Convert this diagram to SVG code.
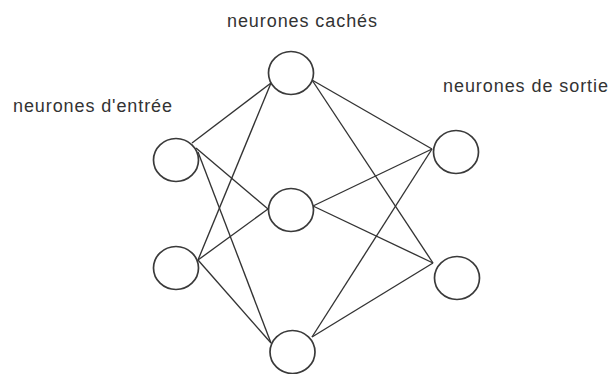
<svg xmlns="http://www.w3.org/2000/svg" width="609" height="374" viewBox="0 0 609 374">
  <style>
    .bg { fill: #ffffff; }
    .neuron { fill: #ffffff; stroke: #3a3a3a; stroke-width: 1.7; }
    .link { stroke: #333333; stroke-width: 1.35; fill: none; }
    .label { font-family: "Liberation Sans", Arial, sans-serif; font-size: 18px; fill: #333333; }
  </style>
  <rect class="bg" x="0" y="0" width="609" height="374"/>

  <!-- layer labels -->
  <g id="labels">
    <text class="label" x="13" y="112" textLength="159" lengthAdjust="spacing">neurones d'entrée</text>
    <text class="label" x="227" y="27" textLength="150" lengthAdjust="spacing">neurones cachés</text>
    <text class="label" x="443" y="92" textLength="165" lengthAdjust="spacing">neurones de sortie</text>
  </g>

  <!-- weighted connections between layers -->
  <g id="connectors">
    <!-- input 1 -> hidden -->
    <line class="link" x1="192" y1="143" x2="271" y2="83"/>
    <line class="link" x1="196" y1="148" x2="268" y2="209"/>
    <line class="link" x1="198" y1="152" x2="271" y2="343"/>
    <!-- input 2 -> hidden -->
    <line class="link" x1="198" y1="260" x2="271" y2="83"/>
    <line class="link" x1="198" y1="260" x2="268" y2="209"/>
    <line class="link" x1="198" y1="260" x2="271" y2="343"/>
    <!-- hidden -> output -->
    <line class="link" x1="312" y1="80" x2="432" y2="149"/>
    <line class="link" x1="312" y1="80" x2="433" y2="263"/>
    <line class="link" x1="313" y1="206" x2="432" y2="149"/>
    <line class="link" x1="313" y1="206" x2="433" y2="263"/>
    <line class="link" x1="312" y1="337" x2="432" y2="149"/>
    <line class="link" x1="312" y1="337" x2="433" y2="263"/>
  </g>

  <!-- input layer -->
  <g id="input-1"><ellipse class="neuron" cx="176" cy="160" rx="22.5" ry="21.5"/></g>
  <g id="input-2"><ellipse class="neuron" cx="176" cy="268" rx="22.5" ry="21.5"/></g>

  <!-- hidden layer -->
  <g id="hidden-1"><ellipse class="neuron" cx="291" cy="73" rx="22.5" ry="21.5"/></g>
  <g id="hidden-2"><ellipse class="neuron" cx="291" cy="210" rx="22.5" ry="21.5"/></g>
  <g id="hidden-3"><ellipse class="neuron" cx="292.5" cy="352" rx="22.5" ry="21.5"/></g>

  <!-- output layer -->
  <g id="output-1"><ellipse class="neuron" cx="456" cy="152" rx="22.5" ry="21.5"/></g>
  <g id="output-2"><ellipse class="neuron" cx="457" cy="278" rx="22.5" ry="21.5"/></g>
</svg>
